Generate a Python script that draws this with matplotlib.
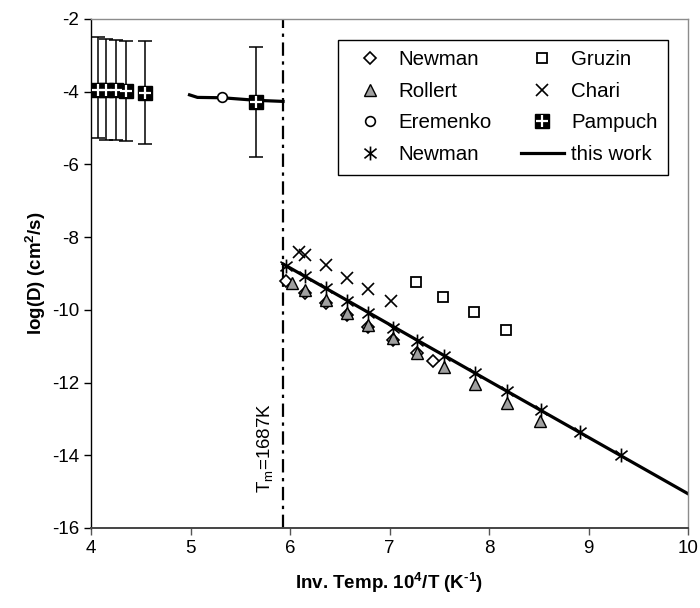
import numpy as np
import matplotlib.pyplot as plt
from matplotlib.path import Path
from matplotlib.legend_handler import HandlerTuple

plt.rcParams['font.family'] = ['Liberation Sans', 'DejaVu Sans']
plt.rcParams['font.size'] = 13.5
plt.rcParams['axes.unicode_minus'] = False
plt.rcParams['mathtext.fontset'] = 'custom'
plt.rcParams['mathtext.rm'] = 'Liberation Sans'
plt.rcParams['mathtext.bf'] = 'Liberation Sans:bold'

# data (x = 10^4/T, y = log D)
newman_d_x = [5.96, 6.15, 6.36, 6.57, 6.78, 7.03, 7.28, 7.44]
newman_d_y = [-9.20, -9.55, -9.82, -10.14, -10.46, -10.82, -11.18, -11.41]

rollert_x = [6.02, 6.15, 6.36, 6.57, 6.78, 7.03, 7.28, 7.55, 7.86, 8.18, 8.51]
rollert_y = [-9.27, -9.45, -9.73, -10.09, -10.42, -10.78, -11.19, -11.56, -12.04, -12.55, -13.05]

eremenko_x = [5.32]
eremenko_y = [-4.14]

newman_s_x = [5.96, 6.15, 6.36, 6.57, 6.78, 7.03, 7.28, 7.55, 7.86, 8.18, 8.52, 8.91, 9.33]
newman_s_y = [-8.80, -9.08, -9.41, -9.77, -10.09, -10.49, -10.87, -11.27, -11.74, -12.23, -12.75, -13.35, -13.99]

gruzin_x = [7.27, 7.54, 7.85, 8.17]
gruzin_y = [-9.24, -9.64, -10.07, -10.55]

chari_x = [6.09, 6.15, 6.36, 6.57, 6.78, 7.01]
chari_y = [-8.42, -8.50, -8.77, -9.13, -9.43, -9.77]

pampuch_x = [4.07, 4.15, 4.25, 4.35, 4.54, 5.66]
pampuch_y = [-3.95, -3.96, -3.97, -3.98, -4.04, -4.30]
pampuch_top = [-2.50, -2.56, -2.57, -2.60, -2.60, -2.78]
pampuch_bot = [-5.28, -5.32, -5.33, -5.36, -5.44, -5.79]

work_liq_x = [4.99, 5.07, 5.32, 5.66, 5.93]
work_liq_y = [-4.09, -4.16, -4.17, -4.24, -4.27]
work_sol_x = [5.93, 8.0, 10.0]
work_sol_y = [-8.74, -11.96, -15.06]

t_melt = 1687.0

# Excel-like star marker: x with a vertical bar
star = Path([(0, -1), (0, 1), (-0.87, -0.7), (0.87, 0.7), (-0.87, 0.7), (0.87, -0.7)],
            [Path.MOVETO, Path.LINETO, Path.MOVETO, Path.LINETO, Path.MOVETO, Path.LINETO])

fig = plt.figure(figsize=(7, 6.08), dpi=100)
ax = fig.add_axes([0.130, 0.1316, 0.853, 0.8374])

h_line, = ax.plot(work_sol_x, work_sol_y, color='black', lw=2.3, zorder=2)
ax.plot(work_liq_x, work_liq_y, color='black', lw=2.3, zorder=2)

h_nd, = ax.plot(newman_d_x, newman_d_y, 'D', ms=6, mfc='white', mec='black', mew=1.2, ls='none', zorder=3)
h_ro, = ax.plot(rollert_x, rollert_y, '^', ms=8, mfc='#a0a0a0', mec='black', mew=1.0, ls='none', zorder=4)
h_er, = ax.plot(eremenko_x, eremenko_y, 'o', ms=7, mfc='white', mec='black', mew=1.2, ls='none', zorder=4)
h_ns, = ax.plot(newman_s_x, newman_s_y, marker=star, ms=10, mec='black', mew=1.2, ls='none', zorder=5)
h_gr, = ax.plot(gruzin_x, gruzin_y, 's', ms=7, mfc='white', mec='black', mew=1.3, ls='none', zorder=4)
h_ch, = ax.plot(chari_x, chari_y, 'x', ms=9, mec='black', mew=1.2, ls='none', zorder=4)

py = np.array(pampuch_y)
yerr = [py - np.array(pampuch_bot), np.array(pampuch_top) - py]
ax.errorbar(pampuch_x, pampuch_y, yerr=yerr, fmt='none', ecolor='black', elinewidth=1.1,
            capsize=5, capthick=1.1, zorder=3)
h_pa1, = ax.plot(pampuch_x, pampuch_y, 's', ms=10, mfc='black', mec='black', ls='none', zorder=6)
h_pa2, = ax.plot(pampuch_x, pampuch_y, '+', ms=8, mec='white', mew=1.6, ls='none', zorder=7)

tm = 1e4 / t_melt
ax.axvline(tm, color='black', lw=1.6, ls=(0, (6, 2.5, 1.5, 2.5)), zorder=1)
ax.text(tm - 0.17, -13.8, r'T$_\mathregular{m}$=1687K', rotation=90, ha='center', va='center',
        fontsize=13.5)

ax.set_xlim(4, 10)
ax.set_ylim(-16, -2)
ax.set_xticks(np.arange(4, 11, 1))
ax.set_yticks(np.arange(-16, -1, 2))
ax.tick_params(direction='out', length=5, width=1, colors='black', labelsize=13.5)
ax.tick_params(axis='x', color='#555555')

for side in ['top', 'right']:
    ax.spines[side].set_color('#8c8c8c')
    ax.spines[side].set_linewidth(1.0)
ax.spines['bottom'].set_color('#444444')
ax.spines['bottom'].set_linewidth(1.4)
ax.spines['left'].set_color('black')
ax.spines['left'].set_linewidth(1.0)

ax.set_xlabel('Inv. Temp. 10$^{\\mathbf{4}}$/T (K$^{\\mathbf{\u2010 1}}$)', fontweight='bold',
              fontsize=13.5, labelpad=10)
ax.set_ylabel(r'log(D) (cm$^{\mathbf{2}}$/s)', fontweight='bold', fontsize=13.5, labelpad=3)

handles = [h_nd, h_ro, h_er, h_ns, h_gr, h_ch, (h_pa1, h_pa2), h_line]
labels = ['Newman', 'Rollert', 'Eremenko', 'Newman', 'Gruzin', 'Chari', 'Pampuch', 'this work']
leg = ax.legend(handles, labels, ncol=2, loc='upper right', bbox_to_anchor=(0.966, 0.959),
                frameon=True, fancybox=False, edgecolor='black', framealpha=1,
                handlelength=2.1, handletextpad=0.35, columnspacing=1.4, labelspacing=0.62,
                borderpad=0.5, borderaxespad=0, fontsize=14.8,
                handler_map={tuple: HandlerTuple(ndivide=1, pad=0)})
leg.get_frame().set_linewidth(1.0)

fig.savefig('out.png', dpi=100)
